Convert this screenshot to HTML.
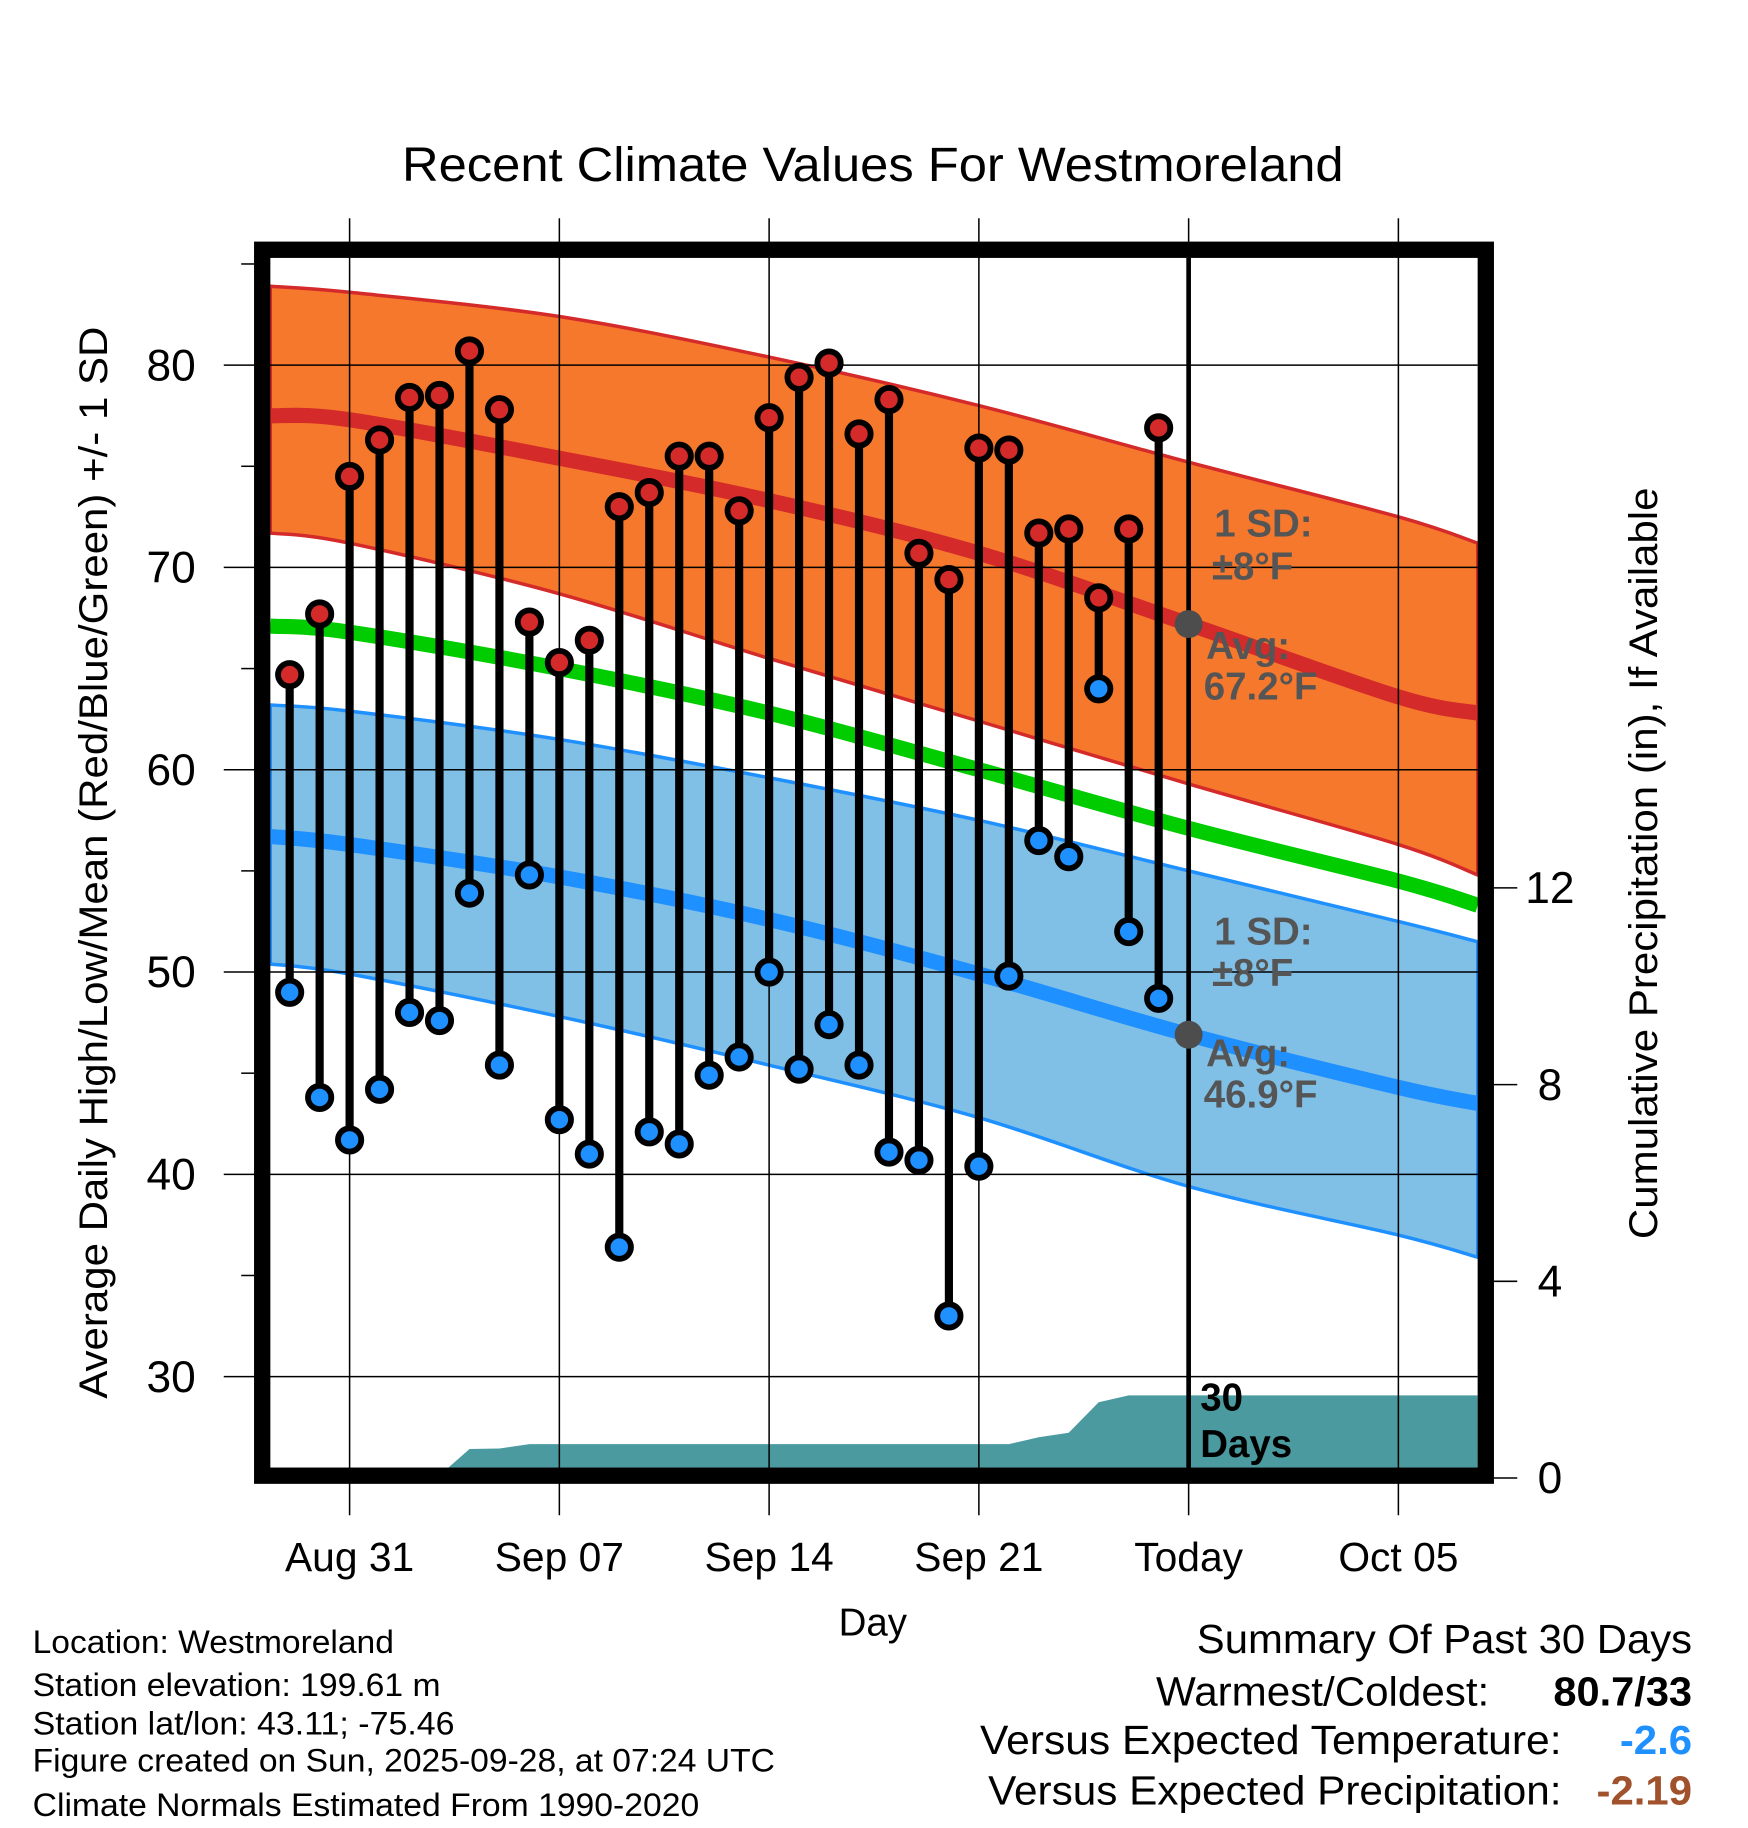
<!DOCTYPE html>
<html><head><meta charset="utf-8">
<style>
html,body{margin:0;padding:0;background:#fff;}
svg{display:block;font-family:"Liberation Sans",sans-serif;}
</style></head>
<body>
<svg id="chart" width="1748" height="1828" viewBox="0 0 1500 1568" xmlns="http://www.w3.org/2000/svg">
<g id="grid"></g>
<g id="bands"></g>
<g id="precip"></g>
<g id="gridover"></g>
<g id="marks"></g>
<g id="axes"></g>
<text x="345" y="155" font-size="41" textLength="808" lengthAdjust="spacingAndGlyphs">Recent Climate Values For Westmoreland</text>
<text x="749" y="1403" font-size="33" text-anchor="middle">Day</text>
<text transform="translate(92,1200) rotate(-90)" font-size="34" textLength="920" lengthAdjust="spacingAndGlyphs">Average Daily High/Low/Mean (Red/Blue/Green) +/- 1 SD</text>
<text transform="translate(1422,1063) rotate(-90)" font-size="34" textLength="645" lengthAdjust="spacingAndGlyphs">Cumulative Precipitation (in), If Available</text>
<g font-size="33" font-weight="bold" fill="#555">
<text x="1042" y="460">1 SD:</text>
<text x="1040" y="497">±8°F</text>
<text x="1035" y="565">Avg:</text>
<text x="1033" y="600">67.2°F</text>
<text x="1042" y="810">1 SD:</text>
<text x="1040" y="846">±8°F</text>
<text x="1035" y="915">Avg:</text>
<text x="1033" y="950">46.9°F</text>
</g>
<text x="1030" y="1210" font-size="33" font-weight="bold">30</text>
<text x="1030" y="1250" font-size="33" font-weight="bold">Days</text>
<g font-size="28" lengthAdjust="spacingAndGlyphs">
<text x="28" y="1418" textLength="310" lengthAdjust="spacingAndGlyphs">Location: Westmoreland</text>
<text x="28" y="1455" textLength="350" lengthAdjust="spacingAndGlyphs">Station elevation: 199.61 m</text>
<text x="28" y="1488" textLength="362" lengthAdjust="spacingAndGlyphs">Station lat/lon: 43.11; -75.46</text>
<text x="28" y="1520" textLength="637" lengthAdjust="spacingAndGlyphs">Figure created on Sun, 2025-09-28, at 07:24 UTC</text>
<text x="28" y="1558" textLength="572" lengthAdjust="spacingAndGlyphs">Climate Normals Estimated From 1990-2020</text>
</g>
<g font-size="35">
<text x="1027" y="1418" textLength="425" lengthAdjust="spacingAndGlyphs">Summary Of Past 30 Days</text>
<text x="992" y="1463" textLength="286" lengthAdjust="spacingAndGlyphs">Warmest/Coldest:</text>
<text x="1333" y="1463" font-weight="bold" textLength="119" lengthAdjust="spacingAndGlyphs">80.7/33</text>
<text x="841" y="1505" textLength="499" lengthAdjust="spacingAndGlyphs">Versus Expected Temperature:</text>
<text x="1390" y="1505" font-weight="bold" fill="#1e90ff" textLength="62" lengthAdjust="spacingAndGlyphs">-2.6</text>
<text x="848" y="1548" textLength="492" lengthAdjust="spacingAndGlyphs">Versus Expected Precipitation:</text>
<text x="1370" y="1548" font-weight="bold" fill="#a0522d" textLength="82" lengthAdjust="spacingAndGlyphs">-2.19</text>
</g>
</svg>
<script>
// Day index: Aug 31 = 0
const obsDays = [-2,-1,0,1,2,3,4,5,6,7,8,9,10,11,12,13,14,15,16,17,18,19,20,21,22,23,24,25,26,27];
const highs = [64.7,67.7,74.5,76.3,78.4,78.5,80.7,77.8,67.3,65.3,66.4,73.0,73.7,75.5,75.5,72.8,77.4,79.4,80.1,76.6,78.3,70.7,69.4,75.9,75.8,71.7,71.9,68.5,71.9,76.9];
const lows = [49.0,43.8,41.7,44.2,48.0,47.6,53.9,45.4,54.8,42.7,41.0,36.4,42.1,41.5,44.9,45.8,50.0,45.2,47.4,45.4,41.1,40.7,33.0,40.4,49.8,56.5,55.7,64.0,52.0,48.7];
const normDays = [-2.65,0,7,14,21,28,35,37.65];
const highUpper = [83.9,83.6,82.4,80.4,78.0,75.2,72.5,71.2];
const highAvg = [77.5,77.3,75.4,73.3,70.7,67.2,63.6,62.8];
const highLower = [71.7,71.2,68.7,65.5,62.4,59.3,56.3,54.8];
const meanAvg = [67.1,66.8,65.0,62.8,60.0,57.1,54.5,53.3];
const lowUpper = [63.2,62.9,61.5,59.6,57.5,55.0,52.5,51.5];
const lowAvg = [56.7,56.3,54.7,52.6,49.9,46.9,44.3,43.5];
const lowLower = [50.4,49.9,47.8,45.4,42.8,39.4,37.0,35.9];
const precipDays = [-2.65,3.3,4,5,6,22,23,24,25,26,27,37.65];
const precipVals = [0,0,0.59,0.6,0.69,0.69,0.83,0.92,1.54,1.68,1.68,1.68];
const xTickDays = [0,7,14,21,28,35];
const xTickLabels = ["Aug 31","Sep 07","Sep 14","Sep 21","Today","Oct 05"];
const yTicks = [30,40,50,60,70,80];
const yMinor = [35,45,55,65,75,85];
const y2Ticks = [0,4,8,12];

const NS="http://www.w3.org/2000/svg";
const X = d => 300 + d*25.714;
const Y = v => 313 + (80-v)*17.36;
const Y2 = p => 1268 - p*42.2;
const L=232,R=1268,T=221,B=1259;
function mk(parent,tag,attrs){const e=document.createElementNS(NS,tag);for(const k in attrs)e.setAttribute(k,attrs[k]);document.getElementById(parent).appendChild(e);return e;}
function cpts(days,vals){return days.map((d,i)=>[X(d),Y(vals[i])]);}
function smooth(p){
  let s="M"+p[0][0].toFixed(1)+","+p[0][1].toFixed(1);
  for(let i=0;i<p.length-1;i++){
    const p0=p[Math.max(0,i-1)],p1=p[i],p2=p[i+1],p3=p[Math.min(p.length-1,i+2)];
    const c1=[p1[0]+(p2[0]-p0[0])/6,p1[1]+(p2[1]-p0[1])/6];
    const c2=[p2[0]-(p3[0]-p1[0])/6,p2[1]-(p3[1]-p1[1])/6];
    s+=" C"+c1.map(v=>v.toFixed(1)).join(",")+" "+c2.map(v=>v.toFixed(1)).join(",")+" "+p2[0].toFixed(1)+","+p2[1].toFixed(1);
  }
  return s;
}
function bandPath(up,lo){
  const a=smooth(cpts(normDays,up));
  const bp=cpts(normDays,lo).reverse();
  const b=smooth(bp).replace(/^M/,"L");
  return a+" "+b+" Z";
}
let e;
e=mk('bands','path',{d:bandPath(highUpper,highLower),fill:'#f5782c',stroke:'#d42a2a','stroke-width':3});


e=mk('bands','path',{d:bandPath(lowUpper,lowLower),fill:'#80bfe6',stroke:'#1e90ff','stroke-width':3});


e=mk('bands','path',{d:smooth(cpts(normDays,highAvg)),fill:'none',stroke:'#d42a2a','stroke-width':13});


e=mk('bands','path',{d:smooth(cpts(normDays,lowAvg)),fill:'none',stroke:'#1e90ff','stroke-width':13});


e=mk('bands','path',{d:smooth(cpts(normDays,meanAvg)),fill:'none',stroke:'#00cc00','stroke-width':13});



// precip
let pp=precipDays.map((d,i)=>X(d).toFixed(1)+","+Math.min(B,Y2(precipVals[i])).toFixed(1));
pp.push(X(37.65)+","+B); pp.push(X(-2.65)+","+B);
e=mk('precip','polygon',{points:pp.join(' '),fill:'#4a9aa0'});



xTickDays.forEach(d=>{
  e=mk('gridover','line',{x1:X(d),x2:X(d),y1:187,y2:1300,stroke:'#000','stroke-width':1.3});
  
  
});
yTicks.forEach(v=>{
  e=mk('gridover','line',{x1:192,x2:R,y1:Y(v),y2:Y(v),stroke:'#000','stroke-width':1.3});
  
  
});
yMinor.forEach(v=>{
  e=mk('gridover','line',{x1:207,x2:218,y1:Y(v),y2:Y(v),stroke:'#000','stroke-width':1.3});
  
  
});
e=mk('gridover','line',{x1:X(28),x2:X(28),y1:T,y2:B,stroke:'#000','stroke-width':4});



obsDays.forEach((d,i)=>{
  e=mk('marks','line',{x1:X(d),x2:X(d),y1:Y(highs[i]),y2:Y(lows[i]),stroke:'#000','stroke-width':7});
  
  
});
obsDays.forEach((d,i)=>{
  e=mk('marks','circle',{cx:X(d),cy:Y(highs[i]),r:10,fill:'#d42a2a',stroke:'#000','stroke-width':5});
  
  
  e=mk('marks','circle',{cx:X(d),cy:Y(lows[i]),r:10,fill:'#1e90ff',stroke:'#000','stroke-width':5});
  
  
});
e=mk('marks','circle',{cx:X(28),cy:Y(67.2),r:12,fill:'#4d4d4d'});


e=mk('marks','circle',{cx:X(28),cy:Y(46.9),r:12,fill:'#4d4d4d'});



e=mk('axes','rect',{x:225,y:214,width:1050,height:1052,fill:'none',stroke:'#000','stroke-width':14});


yTicks.forEach(v=>{
  e=mk('axes','text',{x:168,y:Y(v)+13,'font-size':38,'text-anchor':'end'});
  e.textContent=v;
  
  
});
xTickDays.forEach((d,i)=>{
  e=mk('axes','text',{x:X(d),y:1348,'font-size':35,'text-anchor':'middle'});
  e.textContent=xTickLabels[i];
  
  
});
y2Ticks.forEach(p=>{
  e=mk('axes','line',{x1:1282,x2:1302,y1:Y2(p),y2:Y2(p),stroke:'#000','stroke-width':1.3});
  
  
  e=mk('axes','text',{x:1330,y:Y2(p)+13,'font-size':38,'text-anchor':'middle'});
  e.textContent=p;
  
  
});
</script>
</body></html>
